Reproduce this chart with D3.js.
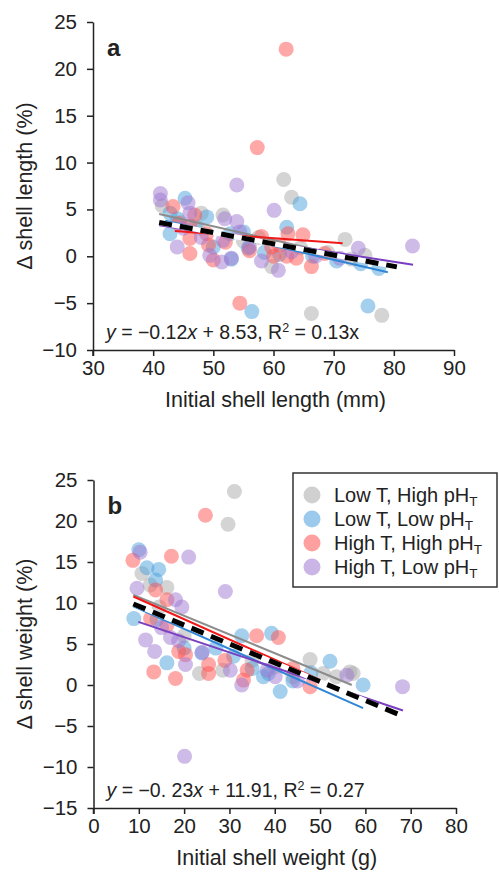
<!DOCTYPE html>
<html><head><meta charset="utf-8">
<script src="https://cdn.jsdelivr.net/npm/d3@7"></script>
<style>body{margin:0;background:#fff}svg{display:block}text{font-family:"Liberation Sans",Arial,sans-serif;fill:#222}</style>
</head><body><svg id="c" width="499" height="879"></svg>
<script>
// ---------- DATA ----------
const groups = ["Low T, High pH", "Low T, Low pH", "High T, High pH", "High T, Low pH"];
const groupColors = ["#a9a9a9", "#4a9fdc", "#ff5252", "#a077d2"];
const lineColors = ["#8c8c8c", "#2f86d6", "#f01818", "#7a3fc0"];

// Panel a: initial shell length (mm) vs delta shell length (%)
const lenGrayX = [61.7, 63.0, 48.0, 51.6, 71.9, 75.2, 59.7, 66.3, 78.0, 41.5, 44.5, 47.5, 55.0, 57.5, 64.5, 69.0, 73.0];
const lenGrayY = [8.2, 6.3, 4.6, 4.4, 1.8, 0.1, -1.1, -6.1, -6.3, 5.4, 3.6, 3.0, 1.6, 2.0, 0.9, 0.4, -0.3];
const lenBlueX = [45.3, 42.8, 48.9, 42.8, 52.8, 55.0, 55.8, 64.4, 62.2, 56.4, 75.7, 47.0, 50.0, 58.5, 61.0, 66.5, 70.5, 74.5, 77.5, 44.0, 53.0];
const lenBlueY = [6.2, 4.6, 4.2, 2.4, 2.4, 2.6, 0.85, 5.6, 3.1, -5.9, -5.3, 3.2, 1.0, 0.4, 0.2, 0.0, -0.5, -0.8, -1.3, 4.0, -0.3];
const lenRedX = [62.1, 57.3, 43.3, 46.9, 46.1, 46.1, 48.9, 49.2, 46.1, 50.0, 58.0, 62.4, 64.9, 59.7, 60.0, 62.2, 63.8, 66.3, 54.4, 44.2, 52.0, 56.0, 61.0, 68.5];
const lenRedY = [22.1, 11.6, 5.3, 4.4, 3.2, 1.9, 2.4, 1.2, 0.3, -0.4, 2.1, 2.4, 2.3, 1.0, 0.0, 0.0, -0.2, -1.1, -5.0, 3.5, 1.5, 0.6, 1.2, 0.3];
const lenPurpleX = [41.2, 41.2, 45.8, 46.1, 51.9, 53.9, 54.4, 51.6, 49.4, 51.4, 53.0, 53.9, 60.1, 60.8, 74.1, 83.1, 45.0, 48.0, 56.0, 58.0, 63.0, 67.0, 71.0, 44.0];
const lenPurpleY = [6.7, 6.0, 5.7, 4.6, 4.0, 3.7, 2.6, 1.7, 0.1, -0.6, -0.2, 7.6, 4.9, -1.5, 0.85, 1.1, 3.0, 2.0, 1.0, -0.5, 0.5, 0.0, -0.2, 1.0];

// Panel b: initial shell weight (g) vs delta shell weight (%)
const wtGrayX = [31.1, 29.7, 10.7, 16.2, 23.4, 28.5, 47.8, 50.7, 53.6, 57.3, 56.6, 12.5, 14.5, 20.0, 35.0, 40.0, 44.0];
const wtGrayY = [23.6, 19.6, 13.6, 11.9, 1.4, 1.8, 3.1, 1.4, 1.0, 1.4, 1.6, 12.2, 9.5, 6.0, 3.0, 2.2, 1.0];
const wtBlueX = [10.0, 11.8, 14.4, 13.7, 8.9, 16.2, 23.9, 32.7, 39.3, 30.9, 37.5, 41.2, 38.6, 52.2, 59.5, 27.0, 35.0, 44.0, 48.0, 14.0, 20.0];
const wtBlueY = [16.5, 14.3, 14.1, 12.8, 8.1, 2.7, 3.9, 6.0, 6.3, 3.5, 1.0, -0.8, 1.4, 2.9, 0.0, 4.5, 2.0, 0.5, 1.5, 8.0, 4.5];
const wtRedX = [24.7, 8.7, 17.2, 13.7, 16.2, 12.6, 16.2, 18.8, 20.3, 13.3, 18.1, 25.4, 25.4, 36.0, 40.8, 33.9, 33.1, 47.8, 29.0, 44.0];
const wtRedY = [20.7, 15.2, 15.7, 11.6, 10.4, 8.1, 7.3, 4.1, 3.7, 1.6, 0.8, 2.5, 1.4, 6.0, 5.8, 1.8, 0.6, -0.2, 3.0, 2.0];
const wtPurpleX = [10.3, 21.0, 29.1, 9.6, 18.1, 19.5, 17.0, 11.5, 18.8, 13.5, 20.3, 30.2, 32.7, 40.1, 38.3, 55.9, 68.2, 20.1, 15.0, 24.0, 45.0];
const wtPurpleY = [16.2, 15.6, 11.4, 11.8, 10.4, 9.5, 5.8, 5.5, 5.4, 4.1, 2.5, 1.8, 0.0, 1.0, 1.8, 1.2, -0.2, -8.7, 7.0, 4.0, 0.5];

// Regression lines per group (gray, blue, red, purple) + overall
const fitAX0 = [41.0, 42.0, 43.6, 41.0];
const fitAX1 = [76.0, 79.0, 71.5, 83.2];
const fitASlope = [-0.146, -0.149, -0.0466, -0.0995];
const fitAIntercept = [10.49, 10.06, 4.73, 7.38];
const overallA = {slope: -0.12, intercept: 8.53, x0: 41, x1: 80.5};

const fitBX0 = [8.8, 8.8, 8.8, 9.9];
const fitBX1 = [57.0, 59.5, 50.0, 68.3];
const fitBSlope = [-0.228, -0.245, -0.247, -0.185];
const fitBIntercept = [13.0, 11.75, 12.97, 9.53];
const overallB = {slope: -0.23, intercept: 11.91, x0: 8.8, x1: 68.2};

const xTicksA = [30, 40, 50, 60, 70, 80, 90];
const yTicksA = [-10, -5, 0, 5, 10, 15, 20, 25];
const xTicksB = [0, 10, 20, 30, 40, 50, 60, 70, 80];
const yTicksB = [-15, -10, -5, 0, 5, 10, 15, 20, 25];

// ---------- DRAW ----------
const svg = d3.select("#c");

function panel(cfg) {
  const g = svg.append("g");
  const x = d3.scaleLinear().domain(cfg.xDomain).range(cfg.xRange);
  const y = d3.scaleLinear().domain(cfg.yDomain).range(cfg.yRange);

  cfg.pts.forEach((p, gi) => {
    g.append("g").selectAll("circle").data(d3.range(p[0].length)).join("circle")
      .attr("cx", i => x(p[0][i])).attr("cy", i => y(p[1][i])).attr("r", 7.5)
      .attr("fill", groupColors[gi]).attr("fill-opacity", 0.5);
  });
  cfg.fit.x0.forEach((x0, gi) => {
    const x1 = cfg.fit.x1[gi], s = cfg.fit.slope[gi], b = cfg.fit.intercept[gi];
    g.append("line").attr("x1", x(x0)).attr("y1", y(b + s * x0)).attr("x2", x(x1)).attr("y2", y(b + s * x1))
      .attr("stroke", lineColors[gi]).attr("stroke-width", 2);
  });
  const o = cfg.overall;
  const l = g.append("g");
  l.append("line").attr("x1", x(o.x0)).attr("y1", y(o.intercept + o.slope * o.x0)).attr("x2", x(o.x1)).attr("y2", y(o.intercept + o.slope * o.x1))
    .attr("stroke", "#fff").attr("stroke-width", 5);
  l.append("line").attr("x1", x(o.x0)).attr("y1", y(o.intercept + o.slope * o.x0)).attr("x2", x(o.x1)).attr("y2", y(o.intercept + o.slope * o.x1))
    .attr("stroke", "#000").attr("stroke-width", 5).attr("stroke-dasharray", "13,8");

  const xa = g.append("g").attr("transform", `translate(0,${cfg.yRange[0]})`)
    .call(d3.axisBottom(x).tickValues(cfg.xTicks).tickSize(6).tickSizeOuter(0).tickPadding(4));
  const ya = g.append("g").attr("transform", `translate(${cfg.xRange[0]},0)`)
    .call(d3.axisLeft(y).tickValues(cfg.yTicks).tickSize(6).tickSizeOuter(0).tickPadding(10));
  [xa, ya].forEach(a => {
    a.selectAll("path,line").attr("stroke", "#222").attr("stroke-width", 1.5);
    a.selectAll("text").attr("font-size", 20.5).attr("fill", "#222").attr("font-family", '"Liberation Sans",Arial,sans-serif');
  });
  g.append("line").attr("x1", cfg.xRange[0]).attr("x2", cfg.xRange[0]).attr("y1", cfg.yRange[0]).attr("y2", cfg.yRange[0] + 6)
    .attr("stroke", "#222").attr("stroke-width", 1.5);

  g.append("text").attr("x", (cfg.xRange[0] + cfg.xRange[1]) / 2 + 2).attr("y", cfg.yRange[0] + 57)
    .attr("text-anchor", "middle").attr("font-size", 21.5).text(cfg.xTitle);
  g.append("text").attr("transform", `translate(32,${(cfg.yRange[0] + cfg.yRange[1]) / 2}) rotate(-90)`)
    .attr("text-anchor", "middle").attr("font-size", 21.5).text(cfg.yTitle);

  g.append("text").attr("x", cfg.xRange[0] + 14).attr("y", cfg.yRange[1] + 34)
    .attr("font-size", 24).attr("font-weight", "bold").attr("fill", "#111").text(cfg.letter);

  const t = g.append("text").attr("x", cfg.xRange[0] + 13).attr("y", cfg.yRange[0] - 11).attr("font-size", 19.5);
  t.append("tspan").attr("font-style", "italic").text("y");
  t.append("tspan").text(" = " + cfg.eq[0]);
  t.append("tspan").attr("font-style", "italic").text("x");
  t.append("tspan").text(" + " + cfg.eq[1] + ", R");
  t.append("tspan").attr("font-size", 12.5).attr("dy", -7).text("2");
  t.append("tspan").attr("dy", 7).text(" = " + cfg.eq[2]);
  if (cfg.eq[3]) t.append("tspan").text(cfg.eq[3]);
  return {x, y};
}

panel({
  xDomain: [30, 90], xRange: [93, 454], yDomain: [-10, 25], yRange: [350, 22],
  xTicks: xTicksA, yTicks: yTicksA,
  pts: [[lenGrayX, lenGrayY], [lenBlueX, lenBlueY], [lenRedX, lenRedY], [lenPurpleX, lenPurpleY]],
  fit: {x0: fitAX0, x1: fitAX1, slope: fitASlope, intercept: fitAIntercept},
  overall: overallA,
  xTitle: "Initial shell length (mm)", yTitle: "Δ shell length (%)", letter: "a",
  eq: ["\u22120.12", "8.53", "0.13", "x"]
});

panel({
  xDomain: [0, 80], xRange: [93.5, 456], yDomain: [-15, 25], yRange: [808, 480],
  xTicks: xTicksB, yTicks: yTicksB,
  pts: [[wtGrayX, wtGrayY], [wtBlueX, wtBlueY], [wtRedX, wtRedY], [wtPurpleX, wtPurpleY]],
  fit: {x0: fitBX0, x1: fitBX1, slope: fitBSlope, intercept: fitBIntercept},
  overall: overallB,
  xTitle: "Initial shell weight (g)", yTitle: "Δ shell weight (%)", letter: "b",
  eq: ["\u22120. 23", "11.91", "0.27", ""]
});

const lg = svg.append("g").attr("transform", "translate(293,473)");
lg.append("rect").attr("width", 204).attr("height", 114).attr("fill", "#fff").attr("stroke", "#333").attr("stroke-width", 1.5);
groups.forEach((name, i) => {
  const row = lg.append("g").attr("transform", `translate(0,${22 + i * 24})`);
  row.append("circle").attr("cx", 19).attr("cy", 0).attr("r", 8.5).attr("fill", groupColors[i]).attr("fill-opacity", 0.55);
  const t = row.append("text").attr("x", 41).attr("y", 7).attr("font-size", 20);
  t.append("tspan").text(name);
  t.append("tspan").attr("font-size", 13.5).attr("dy", 4).text("T");
});
</script></body></html>
